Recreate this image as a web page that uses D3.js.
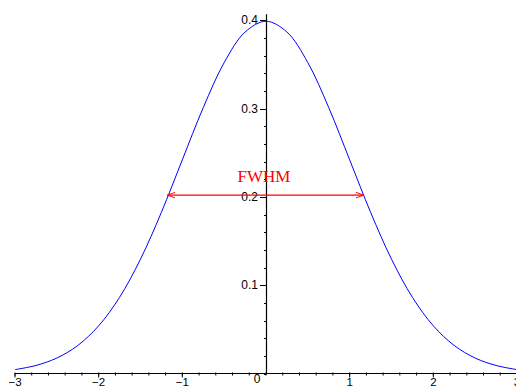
<!DOCTYPE html>
<html>
<head>
<meta charset="utf-8">
<script src="https://cdn.jsdelivr.net/npm/d3@7"></script>
<style>
  body { margin: 0; background: #fff; }
  svg { display: block; }
</style>
</head>
<body>
<div id="chart"></div>
<script>
// values (curve samples)
const xValues = [-3, -2.75, -2.5, -2.25, -2, -1.75, -1.5, -1.25, -1, -0.75, -0.5, -0.25, 0,
                 0.25, 0.5, 0.75, 1, 1.25, 1.5, 1.75, 2, 2.25, 2.5, 2.75, 3];
const yValues = [0.0044, 0.0091, 0.0175, 0.0317, 0.0540, 0.0863, 0.1295, 0.1826, 0.2420, 0.3011, 0.3521, 0.3867, 0.3989,
                 0.3867, 0.3521, 0.3011, 0.2420, 0.1826, 0.1295, 0.0863, 0.0540, 0.0317, 0.0175, 0.0091, 0.0044];

const xTicks = [-3, -2, -1, 1, 2, 3];
const yTicks = [0.1, 0.2, 0.3, 0.4];
const fwhmLeft = -1.18;
const fwhmRight = 1.17;
const fwhmLevel = 0.202;
const fwhmLabel = "FWHM";

const width = 516, height = 387;

const x = d3.scaleLinear().domain([-3, 3]).range([15, 517]);
const y = d3.scaleLinear().domain([0, 0.4]).range([373.5, 20.3]);

const svg = d3.select("#chart").append("svg")
    .attr("width", width)
    .attr("height", height);

const font = "'Liberation Sans', Arial, sans-serif";

// arrow marker
const defs = svg.append("defs");
defs.append("marker")
    .attr("id", "arrow")
    .attr("viewBox", "0 0 10 10")
    .attr("refX", 10).attr("refY", 5)
    .attr("markerWidth", 8).attr("markerHeight", 8)
    .attr("markerUnits", "userSpaceOnUse")
    .attr("orient", "auto-start-reverse")
    .append("path")
    .attr("d", "M0,1.5 L10,5 L0,8.5")
    .attr("fill", "none")
    .attr("stroke", "red")
    .attr("stroke-width", 1.2);

// x axis
const xAxis = svg.append("g");
xAxis.append("line")
    .attr("x1", x(-3)).attr("x2", x(3))
    .attr("y1", y(0)).attr("y2", y(0))
    .attr("stroke", "#000").attr("stroke-width", 1);

const xMinor = d3.range(-30, 31, 2).map(d => d / 10);
xAxis.selectAll(".xminor")
    .data(xMinor)
    .join("line")
    .attr("x1", d => x(d)).attr("x2", d => x(d))
    .attr("y1", y(0) - 1).attr("y2", y(0) + 2)
    .attr("stroke", "#000");

xAxis.selectAll(".xmajor")
    .data(xTicks)
    .join("line")
    .attr("x1", d => x(d)).attr("x2", d => x(d))
    .attr("y1", y(0)).attr("y2", y(0) + 4)
    .attr("stroke", "#000");

xAxis.selectAll(".xlabel")
    .data(xTicks)
    .join("text")
    .attr("x", d => x(d))
    .attr("y", y(0) + 12)
    .attr("text-anchor", "middle")
    .attr("font-family", font)
    .attr("font-size", 11.5)
    .attr("fill", "#000")
    .text(d => d < 0 ? "\u2212" + Math.abs(d) : d);

svg.append("text")
    .attr("x", x(0) - 9)
    .attr("y", y(0) + 9)
    .attr("text-anchor", "middle")
    .attr("font-family", font)
    .attr("font-size", 12)
    .text("0");

// y axis
const yAxis = svg.append("g");
yAxis.append("line")
    .attr("x1", x(0) + 0.5).attr("x2", x(0) + 0.5)
    .attr("y1", y(0)).attr("y2", y(0.4) - 6)
    .attr("stroke", "#000").attr("stroke-width", 1.2);

const yMinor = d3.range(0, 41, 2).map(d => d / 100);
yAxis.selectAll(".yminor")
    .data(yMinor)
    .join("line")
    .attr("x1", x(0) - 2).attr("x2", x(0) + 0.5)
    .attr("y1", d => Math.round(y(d)) + 0.5).attr("y2", d => Math.round(y(d)) + 0.5)
    .attr("stroke", "#000");

yAxis.selectAll(".ymajor")
    .data(yTicks)
    .join("line")
    .attr("x1", x(0) - 6).attr("x2", x(0) + 0.5)
    .attr("y1", d => Math.round(y(d)) + 0.5).attr("y2", d => Math.round(y(d)) + 0.5)
    .attr("stroke", "#000");

yAxis.selectAll(".ylabel")
    .data(yTicks)
    .join("text")
    .attr("x", x(0) - 8)
    .attr("y", d => y(d) + 4)
    .attr("text-anchor", "end")
    .attr("font-family", font)
    .attr("font-size", 12)
    .attr("fill", "#000")
    .text(d => d.toFixed(1));

// curve
const line = d3.line()
    .x(d => x(d[0]))
    .y(d => y(d[1]))
    .curve(d3.curveCatmullRom.alpha(0.5));

svg.append("path")
    .datum(d3.zip(xValues, yValues))
    .attr("d", line)
    .attr("fill", "none")
    .attr("stroke", "#0000ff")
    .attr("stroke-width", 1);

// FWHM arrow
svg.append("line")
    .attr("x1", x(fwhmLeft)).attr("x2", x(fwhmRight))
    .attr("y1", y(fwhmLevel)).attr("y2", y(fwhmLevel))
    .attr("stroke", "red")
    .attr("stroke-width", 1.2)
    .attr("marker-start", "url(#arrow)")
    .attr("marker-end", "url(#arrow)");

svg.append("text")
    .attr("x", 264)
    .attr("y", y(fwhmLevel) - 13.5)
    .attr("text-anchor", "middle")
    .attr("font-family", "'Liberation Serif', 'Times New Roman', serif")
    .attr("font-size", 17)
    .attr("fill", "red")
    .text(fwhmLabel);
</script>
</body>
</html>
